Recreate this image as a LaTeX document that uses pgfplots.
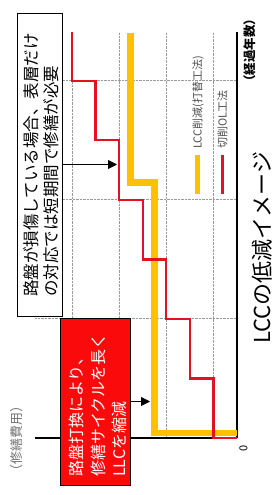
\documentclass[border=0pt]{standalone}
\usepackage{pgfplots}
\pgfplotsset{compat=1.18}
\usepackage{fontspec}
\setmainfont{Noto Sans CJK JP}
\usetikzlibrary{arrows.meta}
\definecolor{lccyellow}{RGB}{255,192,0}
\definecolor{lccred}{RGB}{228,18,30}
\definecolor{boxred}{RGB}{250,10,10}
\begin{document}
\begin{tikzpicture}
\path[use as bounding box] (0pt,0pt) rectangle (274pt,-495pt);
\begin{axis}[
  at={(35pt,-438pt)}, anchor=south west,
  scale only axis, width=202pt, height=406pt,
  x dir=reverse,
  xmin=0, xmax=8.57, ymin=0, ymax=6.82,
  axis x line*=bottom, axis y line*=right,
  axis line style={line width=1.3pt, black},
  xtick={1,3,5,7}, ytick={2,4,6},
  xticklabels={}, yticklabels={},
  major tick length=0pt,
  grid=major,
  grid style={densely dotted, black!40, line width=0.9pt},
  clip=false,
]
\addplot[color=lccyellow, line width=6.5pt, line join=miter] coordinates {
  (0,0.08) (3.51,0.08) (3.51,4.29) (4.52,4.29) (4.52,6.81)};
\addplot[color=lccred, line width=2.2pt, line join=miter] coordinates {
  (0,0) (1,0) (1,1) (2,1) (2,2) (3,2) (3,3) (4,3) (4,4) (5,4) (5,5) (6,5) (6,6) (7,6) (7,6.82)};
\end{axis}
% origin label
\node[rotate=90, font=\fontsize{11}{13}\selectfont, inner sep=0pt] at (243.5pt,-448pt) {0};
% axis names
\node[rotate=90, anchor=west, font=\bfseries\fontsize{12.5}{15}\selectfont, inner sep=0pt] at (250pt,-88pt) {（経過年数）};
\node[rotate=90, anchor=west, font=\fontsize{13}{15}\selectfont, text=black!55, inner sep=0pt] at (17pt,-478pt) {（修繕費用）};
% title
\node[rotate=90, anchor=west, font=\fontsize{22}{26}\selectfont, inner sep=0pt] at (262pt,-344pt) {LCCの低減イメージ};
% legend
\draw[lccyellow, line width=5pt] (197.5pt,-155pt) -- (197.5pt,-194pt);
\draw[lccred, line width=3pt] (222.5pt,-155pt) -- (222.5pt,-194pt);
\node[rotate=90, anchor=west, font=\fontsize{11}{13}\selectfont, text=black!70, inner sep=0pt] at (198pt,-149pt) {LCC削減(打替工法)};
\node[rotate=90, anchor=west, font=\fontsize{11}{13}\selectfont, text=black!70, inner sep=0pt] at (222.5pt,-149pt) {切削OL工法};
% annotation box 1
\draw[fill=white, line width=1pt] (17pt,-14pt) rectangle (62pt,-316pt);
\node[rotate=90, anchor=west, font=\fontsize{16.5}{19}\selectfont, inner sep=0pt] at (31pt,-297pt) {路盤が損傷している場合、表層だけ};
\node[rotate=90, anchor=west, font=\fontsize{16.5}{19}\selectfont, inner sep=0pt] at (51pt,-297pt) {の対応では短期間で修繕が必要};
\draw[-{Triangle[length=9pt,width=9pt]}, line width=0.9pt] (62pt,-164.5pt) -- (117pt,-164.5pt);
% annotation box 2
\draw[fill=boxred, line width=1pt] (60pt,-318pt) rectangle (130pt,-485pt);
\node[rotate=90, anchor=west, font=\fontsize{16}{19}\selectfont, text=white, inner sep=0pt] at (76pt,-477pt) {路盤打換により、};
\node[rotate=90, anchor=west, font=\fontsize{16}{19}\selectfont, text=white, inner sep=0pt] at (98pt,-477pt) {修繕サイクルを長く};
\node[rotate=90, anchor=west, font=\fontsize{16}{19}\selectfont, text=white, inner sep=0pt] at (119pt,-477pt) {LLCを縮減};
\draw[-{Triangle[length=9pt,width=9pt]}, line width=0.9pt] (130pt,-401.5pt) -- (150pt,-401.5pt);
\end{tikzpicture}
\end{document}
